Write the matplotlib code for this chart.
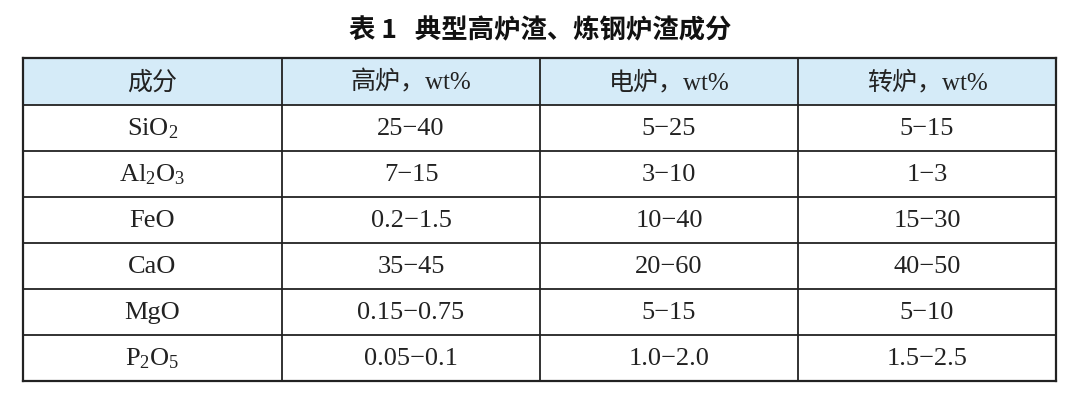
import matplotlib
matplotlib.use("Agg")
import matplotlib.pyplot as plt
from matplotlib.patches import Rectangle

title = "表 1   典型高炉渣、炼钢炉渣成分"
headers = ["成分", "高炉，wt%", "电炉，wt%", "转炉，wt%"]
components = [r"SiO$_2$", r"Al$_2$O$_3$", "FeO", "CaO", "MgO", r"P$_2$O$_5$"]
blast = ["25−40", "7−15", "0.2−1.5", "35−45", "0.15−0.75", "0.05−0.1"]
electric = ["5−25", "3−10", "10−40", "20−60", "5−15", "1.0−2.0"]
converter = ["5−15", "1−3", "15−30", "40−50", "5−10", "1.5−2.5"]

plt.rcParams['mathtext.fontset'] = 'custom'
plt.rcParams['mathtext.rm'] = 'Liberation Serif'
plt.rcParams['mathtext.it'] = 'Liberation Serif'

fig = plt.figure(figsize=(10.8, 4.09), dpi=100)
ax = fig.add_axes([0, 0, 1, 1])
ax.set_xlim(0, 1080); ax.set_ylim(409, 0); ax.axis('off')

cols = [23, 282, 540, 798, 1056]
rows = [58, 105, 151, 197, 243, 289, 335, 381]
ax.add_patch(Rectangle((cols[0], rows[0]), cols[-1]-cols[0], rows[1]-rows[0],
                       facecolor="#d5ebf8", edgecolor="none"))
for y in rows:
    ax.plot([cols[0], cols[-1]], [y, y], color="#222222", lw=1.6 if y in (rows[0], rows[-1]) else 1.3)
for x in cols:
    ax.plot([x, x], [rows[0], rows[-1]], color="#222222", lw=1.6 if x in (cols[0], cols[-1]) else 1.3)

ax.text(540, 31, title, ha='center', va='center', fontsize=19, fontweight='bold',
        family=['Noto Sans CJK SC', 'DejaVu Sans'], color="#111111")
ff = ['Liberation Serif', 'Noto Sans CJK SC']
for i, h in enumerate(headers):
    ax.text((cols[i]+cols[i+1])/2, (rows[0]+rows[1])/2 + 1, h, ha='center', va='center',
            fontsize=18, family=ff, color="#222222")
data = [components, blast, electric, converter]
for r in range(len(components)):
    yc = (rows[r+1]+rows[r+2])/2 + 1
    for c in range(4):
        ax.text((cols[c]+cols[c+1])/2, yc, data[c][r], ha='center', va='center',
                fontsize=19, family=ff, color="#222222")

fig.savefig("out.png", dpi=100, facecolor="white")
